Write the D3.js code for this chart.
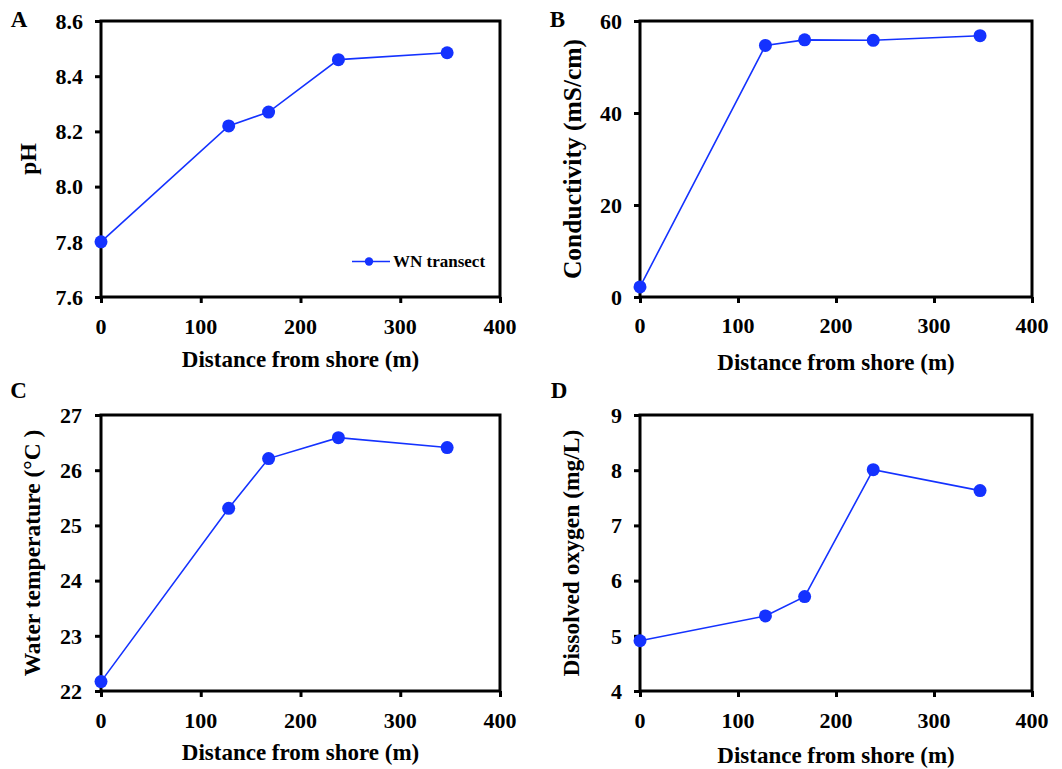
<!DOCTYPE html>
<html>
<head>
<meta charset="utf-8">
<script src="https://cdn.jsdelivr.net/npm/d3@7"></script>
<style>
  html, body { margin: 0; padding: 0; background: #fff; }
  svg text { font-family: "Liberation Serif", "Times New Roman", serif; font-weight: bold; fill: #000; }
</style>
</head>
<body>
<svg id="chart" width="1062" height="769"></svg>
<script>
// Sampling stations along the WN transect (distance from shore, m)
const distance = [0, 128, 168, 238, 347];
const xTicks = [0, 100, 200, 300, 400];

// Measured parameters at each station
const pH = [7.80, 8.22, 8.27, 8.46, 8.485];
const conductivity = [2.2, 54.7, 55.9, 55.8, 56.8];
const waterTemp = [22.17, 25.31, 26.21, 26.59, 26.41];
const dissolvedOxygen = [4.91, 5.36, 5.71, 8.01, 7.63];

// Y-axis tick labels
const pHTicks = ["7.6", "7.8", "8.0", "8.2", "8.4", "8.6"];
const condTicks = [0, 20, 40, 60];
const tempTicks = [22, 23, 24, 25, 26, 27];
const doTicks = [4, 5, 6, 7, 8, 9];

const seriesName = "WN transect";
const blue = "#1432ff";

const panels = [
  { letter: "A", values: pH, ticks: pHTicks.map(Number), fmt: d3.format(".1f"), title: "pH", titleSize: 23.5,
    box: { x0: 101, x1: 500, y0: 21, y1: 297 }, yLabelX: 83, yTitleX: 28, letterPos: [19, 27],
    xLabY: 326, xTitleY: 367, legend: true },
  { letter: "B", values: conductivity, ticks: condTicks, fmt: d3.format("d"), title: "Conductivity (mS/cm)", titleSize: 25.5,
    box: { x0: 640, x1: 1032, y0: 21, y1: 297 }, yLabelX: 622, yTitleX: 572, letterPos: [557.5, 27],
    xLabY: 325, xTitleY: 370 },
  { letter: "C", values: waterTemp, ticks: tempTicks, fmt: d3.format("d"), title: "Water temperature (\u00B0C )", titleSize: 23.5,
    box: { x0: 101, x1: 500, y0: 415, y1: 691 }, yLabelX: 82, yTitleX: 32, letterPos: [18.5, 398],
    xLabY: 720, xTitleY: 760 },
  { letter: "D", values: dissolvedOxygen, ticks: doTicks, fmt: d3.format("d"), title: "Dissolved oxygen (mg/L)", titleSize: 23.5,
    box: { x0: 640, x1: 1032, y0: 415, y1: 691 }, yLabelX: 622, yTitleX: 571, letterPos: [559, 398],
    xLabY: 720, xTitleY: 763 }
];

const svg = d3.select("#chart");

panels.forEach(p => {
  const b = p.box;
  const x = d3.scaleLinear().domain([0, 400]).range([b.x0, b.x1]);
  const y = d3.scaleLinear().domain(d3.extent(p.ticks)).range([b.y1, b.y0]);
  const g = svg.append("g");

  // Frame around the plot area
  g.append("rect")
    .attr("x", b.x0).attr("y", b.y0)
    .attr("width", b.x1 - b.x0).attr("height", b.y1 - b.y0)
    .attr("fill", "none").attr("stroke", "#000").attr("stroke-width", 3);

  // Bottom axis
  const xAxis = g.append("g")
    .attr("transform", `translate(0,${b.y1})`)
    .call(d3.axisBottom(x).tickValues(xTicks).tickSize(6).tickFormat(d3.format("d")));
  xAxis.select(".domain").remove();
  xAxis.selectAll(".tick line").attr("stroke", "#000").attr("stroke-width", 3);
  xAxis.selectAll(".tick text").remove();
  g.selectAll(".xlab").data(xTicks).join("text")
    .attr("x", d => x(d)).attr("y", p.xLabY)
    .attr("dy", "0.35em")
    .attr("text-anchor", "middle").attr("font-size", 22)
    .text(d => d);

  // Left axis
  const yAxis = g.append("g")
    .attr("transform", `translate(${b.x0},0)`)
    .call(d3.axisLeft(y).tickValues(p.ticks).tickSize(6));
  yAxis.select(".domain").remove();
  yAxis.selectAll(".tick line").attr("stroke", "#000").attr("stroke-width", 3);
  yAxis.selectAll(".tick text").remove();
  g.selectAll(".ylab").data(p.ticks).join("text")
    .attr("x", p.yLabelX).attr("y", d => y(d))
    .attr("dy", "0.35em")
    .attr("text-anchor", "end").attr("font-size", 22)
    .text(d => p.fmt(d));

  // Axis titles
  g.append("text")
    .attr("x", (b.x0 + b.x1) / 2).attr("y", p.xTitleY)
    .attr("text-anchor", "middle").attr("font-size", 23)
    .text("Distance from shore (m)");
  g.append("text")
    .attr("transform", `translate(${p.yTitleX},${(b.y0 + b.y1) / 2}) rotate(-90)`)
    .attr("dy", "0.35em")
    .attr("text-anchor", "middle").attr("font-size", p.titleSize)
    .text(p.title);

  // Panel letter
  g.append("text")
    .attr("x", p.letterPos[0]).attr("y", p.letterPos[1])
    .attr("text-anchor", "middle").attr("font-size", 23)
    .text(p.letter);

  // Series line and markers
  const pts = distance.map((d, i) => [d, p.values[i]]);
  g.append("path")
    .datum(pts)
    .attr("fill", "none").attr("stroke", blue).attr("stroke-width", 1.6)
    .attr("d", d3.line().x(d => x(d[0])).y(d => y(d[1])));
  g.selectAll(".pt").data(pts).join("circle")
    .attr("cx", d => x(d[0])).attr("cy", d => y(d[1]))
    .attr("r", 6.5).attr("fill", blue);

  // Legend
  if (p.legend) {
    const ly = 261.5;
    g.append("line")
      .attr("x1", 352).attr("x2", 390).attr("y1", ly).attr("y2", ly)
      .attr("stroke", blue).attr("stroke-width", 1.6);
    g.append("circle").attr("cx", 369).attr("cy", ly).attr("r", 4.2).attr("fill", blue);
    g.append("text")
      .attr("x", 393).attr("y", ly).attr("dy", "0.35em")
      .attr("font-size", 17)
      .text(seriesName);
  }
});
</script>
</body>
</html>
